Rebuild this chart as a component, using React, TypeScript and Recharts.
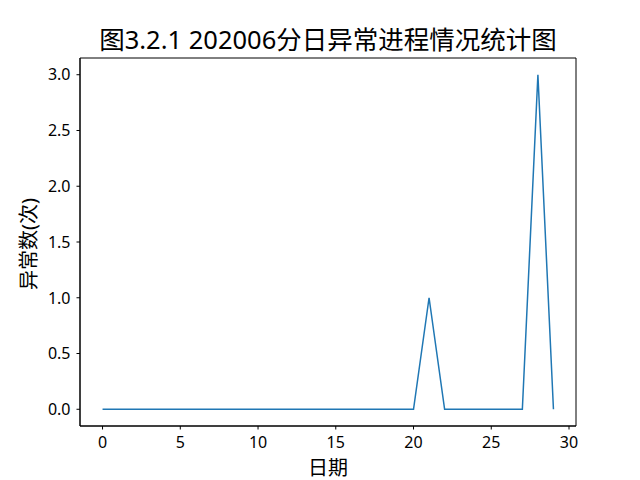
import { LineChart, Line, XAxis, YAxis, ReferenceArea } from "recharts";

// days of June 2020 (0-based) and abnormal process counts
const days = Array.from({ length: 30 }, (_, i) => i);
const counts = [
  0, 0, 0, 0, 0, 0, 0, 0, 0, 0,
  0, 0, 0, 0, 0, 0, 0, 0, 0, 0,
  0, 1, 0, 0, 0, 0, 0, 0, 3, 0,
];
const xTicks = [0, 5, 10, 15, 20, 25, 30];
const yTicks = [0, 0.5, 1, 1.5, 2, 2.5, 3];

const rows = days.map((d, i) => ({ day: d, count: counts[i] }));

const X_DOMAIN: [number, number] = [-1.45, 30.45];
const Y_DOMAIN: [number, number] = [-0.15, 3.15];

const FONT = '"Noto Sans", "Noto Sans CJK SC", sans-serif';

function XTick(props: any) {
  const { x, y, payload } = props;
  return (
    <text x={x} y={y} dy="0.71em" textAnchor="middle" fontSize={16} fontFamily={FONT} fill="#000">
      {payload.value}
    </text>
  );
}

function YTick(props: any) {
  const { x, y, payload } = props;
  return (
    <text x={x} y={y} dy="0.36em" textAnchor="end" fontSize={16} fontFamily={FONT} fill="#000">
      {Number(payload.value).toFixed(1)}
    </text>
  );
}

export default function App() {
  return (
    <div style={{ position: "absolute", left: 0, top: 0, width: 640, height: 480, background: "#fff", overflow: "hidden" }}>
      <LineChart
        width={640}
        height={480}
        data={rows}
        margin={{ top: 58, right: 64, bottom: 24, left: 30 }}
      >
        <XAxis
          dataKey="day"
          type="number"
          domain={X_DOMAIN}
          ticks={xTicks}
          tick={XTick}
          tickSize={3.5}
          tickMargin={7}
          height={30}
          stroke="#000"
          allowDataOverflow
        />
        <YAxis
          type="number"
          domain={Y_DOMAIN}
          ticks={yTicks}
          tick={YTick}
          tickSize={3.5}
          tickMargin={6}
          width={50}
          stroke="#000"
          allowDataOverflow
        />
        <ReferenceArea
          x1={X_DOMAIN[0]}
          x2={X_DOMAIN[1]}
          y1={Y_DOMAIN[0]}
          y2={Y_DOMAIN[1]}
          fill="none"
          fillOpacity={0}
          stroke="#000"
          strokeWidth={1}
          ifOverflow="visible"
        />
        <Line
          dataKey="count"
          type="linear"
          stroke="#1f77b4"
          strokeWidth={1.5}
          dot={false}
          isAnimationActive={false}
        />
      </LineChart>
      <div
        style={{
          position: "absolute",
          left: 80,
          width: 496,
          top: 458,
          textAlign: "center",
          fontFamily: FONT,
          fontSize: 20,
          lineHeight: "20px",
          color: "#000",
        }}
      >
        日期
      </div>
      <div
        style={{
          position: "absolute",
          left: 80,
          width: 496,
          top: 22,
          textAlign: "center",
          fontFamily: FONT,
          fontSize: 25.5,
          lineHeight: "34px",
          color: "#000",
        }}
      >
        图3.2.1 202006分日异常进程情况统计图
      </div>
      <div
        style={{
          position: "absolute",
          left: 29,
          top: 244,
          transform: "translate(-50%, -50%) rotate(-90deg)",
          whiteSpace: "nowrap",
          fontFamily: FONT,
          fontSize: 20,
          lineHeight: "26px",
          color: "#000",
        }}
      >
        异常数(次)
      </div>
    </div>
  );
}
